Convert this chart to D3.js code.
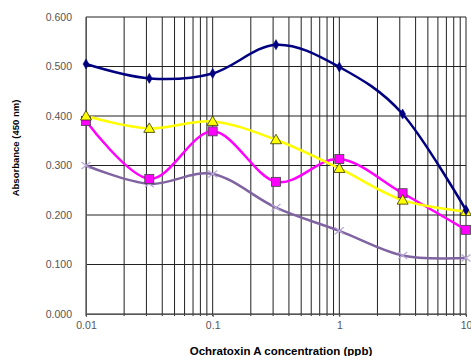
<!DOCTYPE html>
<html><head><meta charset="utf-8">
<script src="https://cdn.jsdelivr.net/npm/d3@7"></script>
<style>body{margin:0;background:#fff}svg{display:block;font-family:"Liberation Sans",Arial,sans-serif}</style>
</head><body><div id="chart"></div>
<script>
const concentrations = [0.01, 0.0316, 0.1, 0.316, 1, 3.16, 10];
const seriesNavy    = [0.505, 0.476, 0.486, 0.544, 0.499, 0.404, 0.210];
const seriesYellow  = [0.400, 0.375, 0.389, 0.352, 0.294, 0.230, 0.207];
const seriesMagenta = [0.390, 0.273, 0.369, 0.267, 0.313, 0.244, 0.170];
const seriesPurple  = [0.300, 0.263, 0.283, 0.215, 0.168, 0.118, 0.113];
const yTicks = [0, 0.1, 0.2, 0.3, 0.4, 0.5, 0.6];
const xTickLabels = [0.01, 0.1, 1, 10];
const xTitle = "Ochratoxin A concentration (ppb)";
const yTitle = "Absorbance (450 nm)";

const W = 471, H = 356;
const m = {left: 86, right: 5, top: 17, bottom: 42};
const svg = d3.select("#chart").append("svg").attr("width", W).attr("height", H);
const x = d3.scaleLog().domain([0.01, 10]).range([m.left, W - m.right]);
const y = d3.scaleLinear().domain([0, 0.6]).range([H - m.bottom, m.top]);

// vertical gridlines (log minor + major)
const vgrid = [];
[0.01, 0.1, 1].forEach(d => { for (let k = 1; k <= 9; k++) vgrid.push(d * k); });
vgrid.push(10);
svg.append("g").selectAll("line").data(vgrid).join("line")
  .attr("x1", d => x(d)).attr("x2", d => x(d))
  .attr("y1", y(0.6)).attr("y2", y(0) + 2)
  .attr("stroke", "#222").attr("stroke-width", 1);
// horizontal gridlines
svg.append("g").selectAll("line").data(yTicks).join("line")
  .attr("x1", x(0.01)).attr("x2", x(10))
  .attr("y1", d => y(d)).attr("y2", d => y(d))
  .attr("stroke", "#222").attr("stroke-width", 1);

// axes via d3
const yAxis = d3.axisLeft(y).tickValues(yTicks).tickFormat(d3.format(".3f")).tickSize(0).tickPadding(14);
const gy = svg.append("g").attr("transform", `translate(${m.left},0)`).call(yAxis);
gy.select(".domain").attr("stroke", "#555");
gy.selectAll("text").attr("font-size", 10.5).attr("fill", "#555").attr("font-family", "Liberation Sans, Arial");
const xAxis = d3.axisBottom(x).tickValues(xTickLabels).tickFormat(d => String(d)).tickSize(3).tickPadding(5);
const gx = svg.append("g").attr("transform", `translate(0,${y(0)})`).call(xAxis);
gx.select(".domain").attr("stroke", "#555");
gx.selectAll(".tick line").attr("stroke", "#555");
gx.selectAll("text").attr("font-size", 10.5).attr("fill", "#555").attr("font-family", "Liberation Sans, Arial");

// titles
svg.append("text").attr("x", 281).attr("y", 355).attr("text-anchor", "middle")
  .attr("font-size", 11.5).attr("font-weight", "bold").attr("fill", "#000").text(xTitle);
svg.append("text").attr("transform", `translate(19,148) rotate(-90)`).attr("text-anchor", "middle")
  .attr("font-size", 9.5).attr("font-weight", "bold").attr("fill", "#000").text(yTitle);

const line = d3.line().x(d => x(d[0])).y(d => y(d[1])).curve(d3.curveCardinal.tension(0));
const series = [
  {vals: seriesPurple,  color: "#8064a2", marker: "x"},
  {vals: seriesMagenta, color: "#ff00ff", marker: "square"},
  {vals: seriesYellow,  color: "#ffff00", marker: "triangle"},
  {vals: seriesNavy,    color: "#000080", marker: "diamond"}
];
series.forEach(s => {
  const pts = concentrations.map((c, i) => [c, s.vals[i]]);
  svg.append("path").datum(pts).attr("d", line).attr("fill", "none")
    .attr("stroke", s.color).attr("stroke-width", 2.5);
});
series.forEach(s => {
  const pts = concentrations.map((c, i) => [c, s.vals[i]]);
  const g = svg.append("g");
  pts.forEach(p => {
    const cx = x(p[0]), cy = y(p[1]);
    if (s.marker === "diamond") {
      g.append("path").attr("d", d3.symbol(d3.symbolDiamond, 30)()).attr("transform", `translate(${cx},${cy})`)
        .attr("fill", "#000080").attr("stroke", "#000080").attr("stroke-width", 0.5);
    } else if (s.marker === "triangle") {
      g.append("path").attr("d", `M0,-5.5L5.5,4L-5.5,4Z`).attr("transform", `translate(${cx},${cy})`)
        .attr("fill", "#ffff00").attr("stroke", "#333300").attr("stroke-width", 0.8);
    } else if (s.marker === "square") {
      g.append("rect").attr("x", cx - 4.5).attr("y", cy - 4.5).attr("width", 9).attr("height", 9)
        .attr("fill", "#ff00ff").attr("stroke", "#444").attr("stroke-width", 0.8);
    } else {
      g.append("path").attr("d", `M-4.5,-3.5L4.5,3.5M-4.5,3.5L4.5,-3.5`).attr("transform", `translate(${cx},${cy})`)
        .attr("fill", "none").attr("stroke", "#b8a8d8").attr("stroke-width", 1.2);
    }
  });
});
</script></body></html>
